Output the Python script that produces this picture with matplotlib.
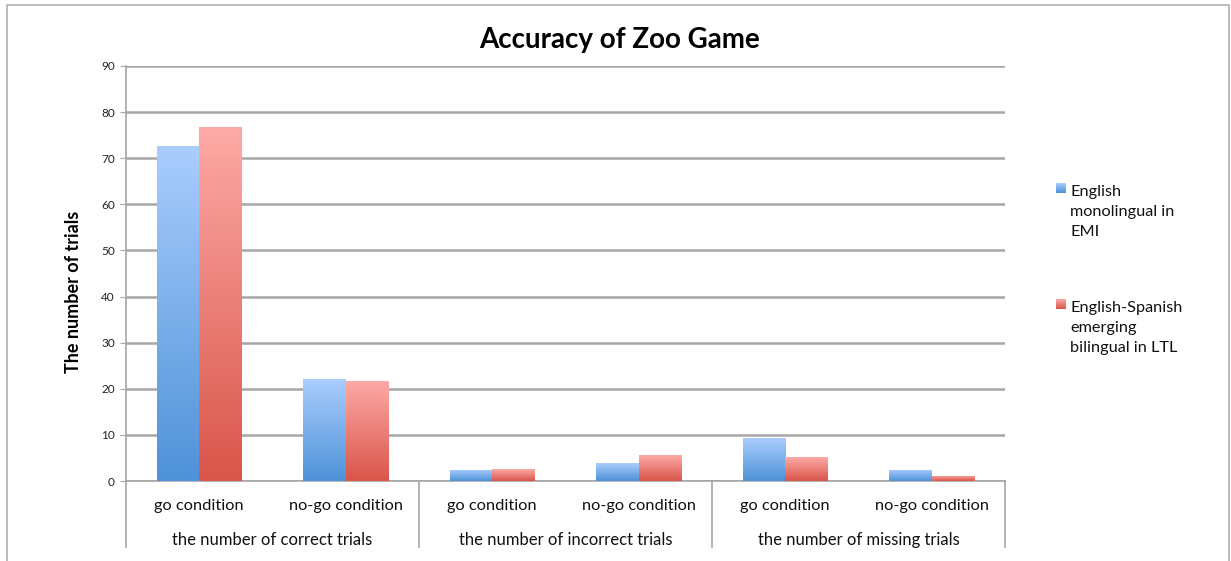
import numpy as np
import matplotlib
matplotlib.use("Agg")
from matplotlib import pyplot as plt
from matplotlib.colors import LinearSegmentedColormap
from matplotlib.lines import Line2D

plt.rcParams["font.family"] = ["Lato", "DejaVu Sans"]

# Data
conditions = ["go condition", "no-go condition"] * 3
groups = [
    "the number of correct trials",
    "the number of incorrect trials",
    "the number of missing trials",
]
series_names = [
    ["English", "monolingual in", "EMI"],
    ["English-Spanish", "emerging", "bilingual in LTL"],
]
monolingual = [72.6, 22.1, 2.4, 3.9, 9.3, 2.4]
bilingual = [76.8, 21.7, 2.6, 5.6, 5.2, 1.1]
y_ticks = list(range(0, 91, 10))

# Gradient colours (top, bottom)
blue_top, blue_bot = "#aacdfd", "#4e92d8"
red_top, red_bot = "#fdaaa6", "#d9554a"
GRID = "#a6a6a6"
W, H = 1231, 561

fig = plt.figure(figsize=(W / 100, H / 100), dpi=100)
ax = fig.add_axes([126 / W, 80 / H, 879 / W, 415 / H])

x = np.arange(len(conditions))
bw = 0.29
grad = np.linspace(0, 1, 256).reshape(-1, 1)


def grad_bars(xpos, vals, c_top, c_bot):
    cmap = LinearSegmentedColormap.from_list("g", [c_bot, c_top])
    bars = ax.bar(xpos, vals, bw, color="none", edgecolor="none", zorder=3)
    for b in bars:
        x0, y0 = b.get_x(), b.get_y()
        w, h = b.get_width(), b.get_height()
        im = ax.imshow(grad, cmap=cmap, origin="lower", aspect="auto",
                       extent=[x0, x0 + w, y0, y0 + h], zorder=3,
                       interpolation="bilinear")
        im.set_clip_path(b)
    return cmap


cmaps = [
    grad_bars(x - bw / 2, monolingual, blue_top, blue_bot),
    grad_bars(x + bw / 2, bilingual, red_top, red_bot),
]

ax.set_xlim(-0.5, len(conditions) - 0.5)
ax.set_ylim(0, 90)
ax.set_yticks(y_ticks)
ax.tick_params(axis="y", labelsize=8.5, length=4, color=GRID, pad=4,
               labelcolor="#222222")
ax.set_xticks([])
ax.yaxis.grid(True, color=GRID, linewidth=1.8)
ax.set_axisbelow(True)
for s in ["top", "right"]:
    ax.spines[s].set_visible(False)
for s in ["left", "bottom"]:
    ax.spines[s].set_color(GRID)
    ax.spines[s].set_linewidth(1.2)

# two-level category axis
trans = ax.get_xaxis_transform()
for i, c in enumerate(conditions):
    ax.text(i, -0.06, c, transform=trans, ha="center", va="center",
            fontsize=11.8, color="#111111")
for g, name in enumerate(groups):
    ax.text(2 * g + 0.5, -0.142, name, transform=trans, ha="center",
            va="center", fontsize=12, color="#111111")
for xb in [-0.5, 1.5, 3.5, 5.5]:
    ax.add_line(Line2D([xb, xb], [0, -0.16], transform=trans, color=GRID,
                       linewidth=1.2, clip_on=False))

ax.set_ylabel("The number of trials", fontsize=13, fontweight="bold")
ax.yaxis.set_label_coords(-0.05, 0.455)
fig.text(620 / W, 1 - 40 / H, "Accuracy of Zoo Game", ha="center",
         va="center", fontsize=20, fontweight="bold")

# legend, drawn by hand so the swatch sits on the first text line
for k, (lines, top) in enumerate(zip(series_names, [183, 299])):
    sw = fig.add_axes([1056 / W, 1 - (top + 10) / H, 10 / W, 10 / H])
    sw.imshow(grad, cmap=cmaps[k], origin="lower", aspect="auto",
              interpolation="bilinear")
    sw.set_axis_off()
    for j, line in enumerate(lines):
        fig.text(1070 / W, 1 - (top + 13 + 20 * j) / H, line,
                 ha="left", va="baseline", fontsize=11.7, color="#111111")

# outer chart frame
fig.add_artist(Line2D([7 / W, 7 / W, 1229 / W, 1229 / W],
                      [0, 1 - 5 / H, 1 - 5 / H, 0],
                      transform=fig.transFigure, color="#b0b0b0",
                      linewidth=1.2))

fig.savefig("out.png", dpi=100)
